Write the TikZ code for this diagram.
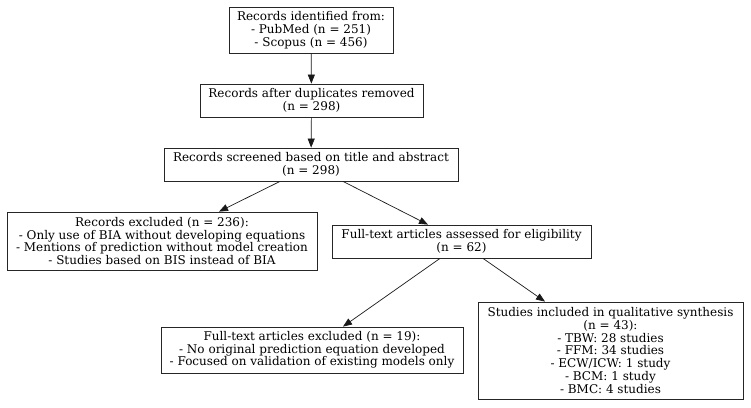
\documentclass[tikz,border=0pt]{standalone}
\usepackage{fontspec}
\setmainfont{DejaVu Serif}
\usetikzlibrary{arrows.meta}
\begin{document}
\begin{tikzpicture}[x=1pt,y=-1pt,
  box/.style={draw=black!85, line width=0.8pt, align=center, inner sep=1pt,
    font=\fontsize{12}{12.7}\selectfont},
  conn/.style={draw=black!90, line width=0.7pt, -{Triangle[length=9pt,width=7pt]}}]
\useasboundingbox (0,0) rectangle (751,407);
\node[box, minimum width=164pt, minimum height=46pt] (b1) at (311,30)
  {Records identified from:\\- PubMed (n = 251)\\- Scopus (n = 456)};
\node[box, minimum width=223pt, minimum height=33pt] (b2) at (311.5,100.5)
  {Records after duplicates removed\\(n = 298)};
\node[box, minimum width=294pt, minimum height=33pt] (b3) at (311,164.5)
  {Records screened based on title and abstract\\(n = 298)};
\node[box, minimum width=310pt, minimum height=58pt] (b4) at (162,241)
  {Records excluded (n = 236):\\- Only use of BIA without developing equations\\- Mentions of prediction without model creation\\- Studies based on BIS instead of BIA};
\node[box, minimum width=259pt, minimum height=33pt] (b5) at (461.5,241.5)
  {Full-text articles assessed for eligibility\\(n = 62)};
\node[box, minimum width=302pt, minimum height=46pt] (b6) at (312,350)
  {Full-text articles excluded (n = 19):\\- No original prediction equation developed\\- Focused on validation of existing models only};
\node[box, minimum width=265pt, minimum height=97pt] (b7) at (610.5,350.5)
  {Studies included in qualitative synthesis\\(n = 43):\\- TBW: 28 studies\\- FFM: 34 studies\\- ECW/ICW: 1 study\\- BCM: 1 study\\- BMC: 4 studies};
\draw[conn] (b1) -- (b2);
\draw[conn] (b2) -- (b3);
\draw[conn] ([xshift=-31pt]b3.south) -- ([xshift=57pt]b4.north);
\draw[conn] ([xshift=32pt]b3.south) -- ([xshift=-33.5pt]b5.north);
\draw[conn] ([xshift=-21.5pt]b5.south) -- ([xshift=31pt]b6.north);
\draw[conn] ([xshift=21.5pt]b5.south) -- ([xshift=-65.5pt]b7.north);
\end{tikzpicture}
\end{document}
